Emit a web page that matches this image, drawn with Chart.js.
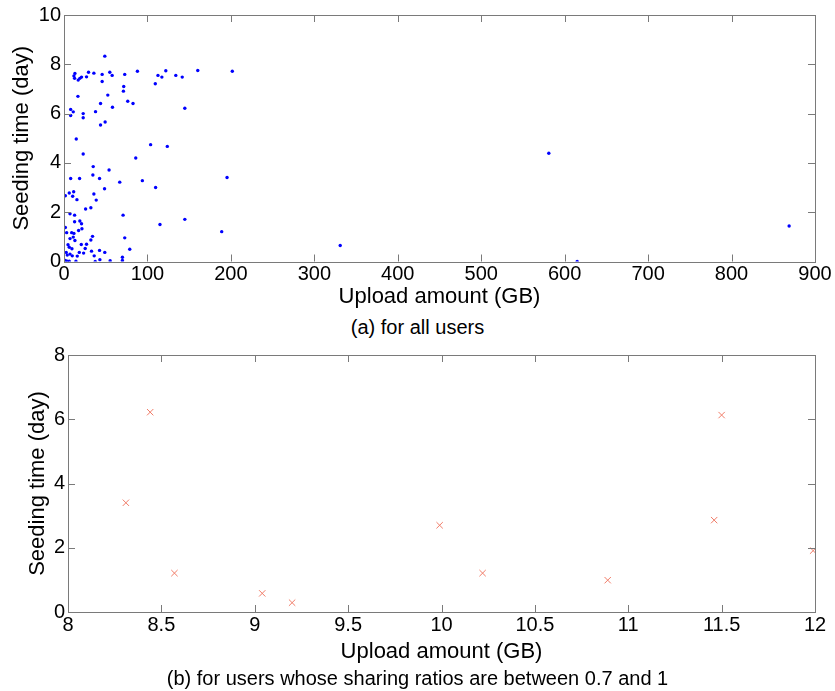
<!DOCTYPE html>
<html>
<head>
<meta charset="utf-8">
<script src="https://cdn.jsdelivr.net/npm/chart.js@4.4.1/dist/chart.umd.min.js"></script>
<style>
  body { margin: 0; background: #fff; }
  #wrap { position: relative; width: 835px; height: 691px; font-family: 'Liberation Sans', Arial, sans-serif; }
  .box { position: absolute; left: 0; width: 835px; }
  .cap { position: absolute; left: 0; width: 835px; text-align: center; font-size: 20px; color: #000; }
</style>
</head>
<body>
<div id="wrap">
  <div class="box" style="top:0;height:315px;"><canvas id="c1"></canvas></div>
  <div class="cap" style="top:316px;">(a) for all users</div>
  <div class="box" style="top:330px;height:361px;"><canvas id="c2"></canvas></div>
  <div class="cap" style="top:667px;">(b) for users whose sharing ratios are between 0.7 and 1</div>
</div>
<script>
// (a) all users: upload amount (GB) vs seeding time (day)
var uploadAll = [48.9, 13.1, 11.9, 12.7, 17, 19, 21, 27, 29.4, 35.8, 45.7, 45.7, 54.9, 57.7, 72.8, 71.6, 71.2, 88, 109.4, 112.6,
  117.3, 122, 134, 141.7, 160.3, 16.7, 52.5, 201.7,
  8, 11.1, 8, 23, 23, 37.8, 43.8, 58.1, 76.4, 82.7, 43.8, 49.3, 144.8, 14.7, 103.8, 123.8, 23,
  86, 35, 54, 34.6, 8, 18.7, 42.6, 66.8, 93.9, 195.4, 48.6, 109.8, 1.6, 6.3, 11.6, 10.4, 15.5, 35.8, 38.6, 25.9, 32.2,
  7.2, 12.7, 70.8, 1.6, 12.7, 19, 21, 21.5, 17.5, 115, 144.8, 189, 3.2, 9.2, 11.9, 11.1, 7.2, 13.1, 4.8, 6.3, 9.5,
  2.7, 3.9, 7.2, 9.9, 1.6, 3.9, 6.3, 14.3, 20.7, 27, 32.2, 34.2, 25.4, 23.5, 18.3, 15.9, 33, 36.2, 42.6, 48.9, 43,
  37.4, 55.3, 70, 70, 72.8, 78.8,
  331, 581, 615, 869];
var seedAll = [8.33, 7.63, 7.53, 7.43, 7.36, 7.43, 7.48, 7.49, 7.68, 7.64, 7.59, 7.3, 7.68, 7.55, 7.59, 7.1, 6.91, 7.72, 7.21, 7.55,
  7.48, 7.74, 7.55, 7.48, 7.75, 6.7, 6.75, 7.72,
  6.17, 6.07, 5.92, 6.0, 5.83, 6.08, 6.41, 6.26, 6.5, 6.41, 5.54, 5.66, 6.22, 4.97, 4.74, 4.67, 4.36,
  4.2, 3.85, 3.71, 3.51, 3.37, 3.37, 3.37, 3.22, 3.28, 3.41, 2.95, 3.0, 2.67, 2.78, 2.83, 2.65, 2.51, 2.74, 2.49, 2.13, 2.18,
  1.94, 1.88, 1.88, 1.38, 1.61, 1.64, 1.53, 1.33, 1.26, 1.5, 1.71, 1.21, 1.17, 1.17, 1.14, 0.99, 0.93, 0.85, 0.68, 0.58, 0.52,
  0.37, 0.26, 0.3, 0.23, 0.04, 0.01, 0.01, 0.01, 0.69, 0.7, 0.87, 1.02, 0.53, 0.34, 0.37, 0.22, 0.42, 0.23, 0.45, 0.37, 0.07,
  0, 0.03, 0.17, 0.04, 0.96, 0.5,
  0.65, 4.39, 0, 1.44];

// (b) users with sharing ratio between 0.7 and 1
var uploadMid = [8.31, 8.44, 8.57, 9.04, 9.2, 9.99, 10.22, 10.89, 11.46, 11.5, 11.99];
var seedMid = [3.40, 6.22, 1.21, 0.58, 0.29, 2.70, 1.21, 0.99, 2.86, 6.13, 1.91];

var xTitle = 'Upload amount (GB)';
var yTitle = 'Seeding time (day)';
var fontFam = "'Liberation Sans', Arial, sans-serif";

function toPoints(xs, ys) {
  var pts = [];
  for (var i = 0; i < xs.length; i++) {
    pts.push({x: xs[i], y: ys[i]});
  }
  return pts;
}

// matlab style frame: box plus inward ticks on all four sides
var boxTicks = {
  id: 'boxTicks',
  afterDraw: function(chart) {
    var ctx = chart.ctx, a = chart.chartArea;
    var xs = chart.scales.x, ys = chart.scales.y;
    var len = 7;
    ctx.save();
    ctx.strokeStyle = '#7a7a7a';
    ctx.lineWidth = 1;
    ctx.beginPath();
    xs.ticks.forEach(function(t) {
      var px = Math.round(xs.getPixelForValue(t.value)) + 0.5;
      ctx.moveTo(px, a.bottom); ctx.lineTo(px, a.bottom - len);
      ctx.moveTo(px, a.top); ctx.lineTo(px, a.top + len);
    });
    ys.ticks.forEach(function(t) {
      var py = Math.round(ys.getPixelForValue(t.value)) + 0.5;
      ctx.moveTo(a.left, py); ctx.lineTo(a.left + len, py);
      ctx.moveTo(a.right, py); ctx.lineTo(a.right - len, py);
    });
    ctx.stroke();
    ctx.strokeRect(Math.round(a.left) + 0.5, Math.round(a.top) + 0.5,
      Math.round(a.right - a.left), Math.round(a.bottom - a.top));
    ctx.restore();
  }
};

// plain tick text: 8, 8.5, 9 ... (no trailing .0)
function plainTick(value) {
  return String(Math.round(value * 100) / 100);
}

function makeOptions(o) {
  return {
    responsive: true,
    maintainAspectRatio: false,
    animation: false,
    layout: { padding: { left: 0, right: 20, top: o.padTop, bottom: 0 } },
    plugins: { legend: { display: false }, tooltip: { enabled: false } },
    scales: {
      x: {
        type: 'linear', min: o.xmin, max: o.xmax,
        afterFit: function(s) { s.height = o.xHeight; },
        grid: { display: false, drawTicks: false },
        border: { display: false },
        ticks: { stepSize: o.xstep, padding: 1, color: '#000', maxRotation: 0, autoSkip: false,
          callback: plainTick, font: { family: fontFam, size: 20 } },
        title: { display: true, text: xTitle, color: '#000', padding: { top: 0, bottom: o.xTitlePad },
          font: { family: fontFam, size: 22 } }
      },
      y: {
        type: 'linear', min: o.ymin, max: o.ymax,
        afterFit: function(s) { s.width = o.yWidth; },
        grid: { display: false, drawTicks: false },
        border: { display: false },
        ticks: { stepSize: o.ystep, padding: 3, color: '#000',
          callback: plainTick, font: { family: fontFam, size: 20 } },
        title: { display: true, text: yTitle, color: '#000', padding: { top: o.yTitlePad, bottom: 0 },
          font: { family: fontFam, size: 22 } }
      }
    }
  };
}

new Chart(document.getElementById('c1'), {
  type: 'scatter',
  data: { datasets: [{
    data: toPoints(uploadAll, seedAll),
    pointStyle: 'circle', pointRadius: 1.7, pointBorderWidth: 0,
    backgroundColor: '#0000ff', borderColor: '#0000ff'
  }] },
  options: makeOptions({ padTop: 15, xmin: 0, xmax: 900, xstep: 100, ymin: 0, ymax: 10, ystep: 2,
    xHeight: 53.5, yWidth: 64, xTitlePad: 5, yTitlePad: 9 }),
  plugins: [boxTicks]
});

new Chart(document.getElementById('c2'), {
  type: 'scatter',
  data: { datasets: [{
    data: toPoints(uploadMid, seedMid),
    pointStyle: 'crossRot', pointRadius: 4.5, pointBorderWidth: 1,
    backgroundColor: '#f07c68', borderColor: '#f07c68'
  }] },
  options: makeOptions({ padTop: 25, xmin: 8, xmax: 12, xstep: 0.5, ymin: 0, ymax: 8, ystep: 2,
    xHeight: 79, yWidth: 68, xTitlePad: 26, yTitlePad: 25 }),
  plugins: [boxTicks]
});
</script>
</body>
</html>
